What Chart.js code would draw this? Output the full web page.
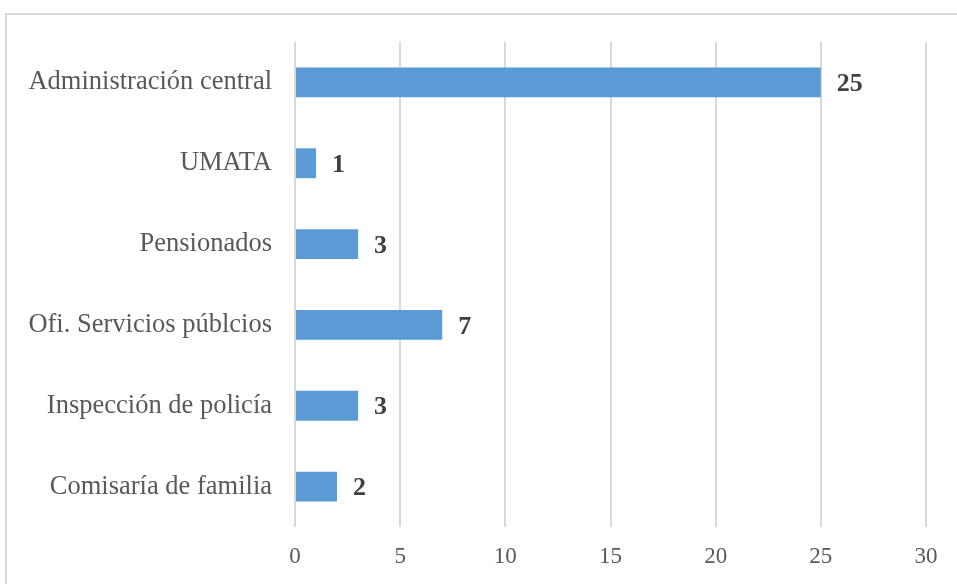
<!DOCTYPE html>
<html>
<head>
<meta charset="utf-8">
<script src="https://cdn.jsdelivr.net/npm/chart.js@4/dist/chart.umd.min.js"></script>
<style>
  body { margin: 0; background: #fff; }
  #frame { position: absolute; left: 5px; top: 13px; width: 980px; height: 600px; border: 2px solid #d9d9d9; }
  #wrap { position: absolute; left: 0; top: 0; width: 957px; height: 584px; }
</style>
</head>
<body>
<div id="frame"></div>
<div id="wrap"><canvas id="chart"></canvas></div>
<script>
// data
var categories = ['Administración central', 'UMATA', 'Pensionados', 'Ofi. Servicios públcios', 'Inspección de policía', 'Comisaría de familia'];
var counts = [25, 1, 3, 7, 3, 2];
var xTicks = [0, 5, 10, 15, 20, 25, 30];

var serif = "'Liberation Serif', 'Times New Roman', serif";

// bold value next to each bar
var valueLabels = {
  id: 'valueLabels',
  afterDatasetsDraw: function(chart) {
    var ctx = chart.ctx;
    var meta = chart.getDatasetMeta(0);
    ctx.save();
    ctx.font = 'bold 26px ' + serif;
    ctx.fillStyle = '#404040';
    ctx.textAlign = 'left';
    ctx.textBaseline = 'middle';
    meta.data.forEach(function(bar, i) {
      ctx.fillText(String(counts[i]), bar.x + 16, bar.y + 2);
    });
    ctx.restore();
  }
};

new Chart(document.getElementById('chart'), {
  type: 'bar',
  data: {
    labels: categories,
    datasets: [{
      data: counts,
      backgroundColor: '#5b9bd5',
      borderWidth: 0,
      barPercentage: 0.37,
      categoryPercentage: 1
    }]
  },
  plugins: [valueLabels],
  options: {
    indexAxis: 'y',
    responsive: true,
    maintainAspectRatio: false,
    animation: false,
    layout: { padding: { top: 42, right: 31, left: 0, bottom: 0 } },
    plugins: {
      legend: { display: false },
      tooltip: { enabled: false }
    },
    scales: {
      x: {
        min: 0,
        max: 30,
        afterBuildTicks: function(scale) {
          scale.ticks = xTicks.map(function(v) { return { value: v }; });
        },
        afterFit: function(scale) { scale.height = 57; },
        grid: { color: '#d9d9d9', lineWidth: 2, drawTicks: false },
        border: { display: false },
        ticks: { color: '#595959', padding: 16, font: { family: serif, size: 23 } }
      },
      y: {
        afterFit: function(scale) { scale.width = 295; },
        grid: { display: false },
        border: { display: false },
        ticks: { color: '#595959', padding: 15, font: { family: serif, size: 26.5 } }
      }
    }
  }
});
</script>
</body>
</html>
